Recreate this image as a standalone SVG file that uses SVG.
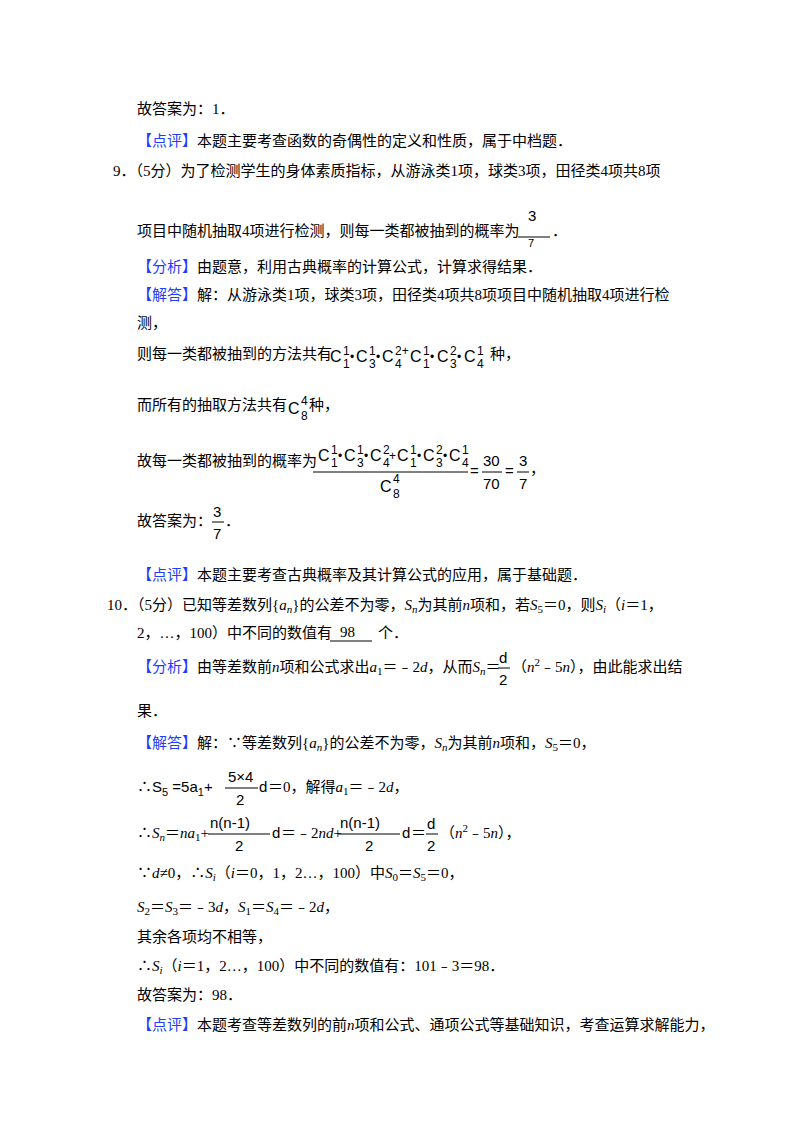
<svg xmlns="http://www.w3.org/2000/svg" width="800" height="1132" viewBox="0 0 800 1132">
<style>
text{font-family:"Liberation Serif","Noto Sans CJK SC",serif;font-size:15px;fill:#000}
.b{fill:#1f3dff}
.m{font-family:"Liberation Sans","Noto Sans CJK SC",sans-serif}
.c{font-family:"Liberation Sans",sans-serif;font-size:16px}
.s{font-size:11px}
.t{font-family:"Liberation Sans",sans-serif;font-size:12px}
.i{font-style:italic}
line{stroke:#000;stroke-width:1}
</style>
<rect width="800" height="1132" fill="#fff"/>
<text x="137" y="114">故答案为：1．</text>
<text x="137" y="146"><tspan class="b">【点评】</tspan>本题主要考查函数的奇偶性的定义和性质，属于中档题．</text>
<text x="113" y="176">9．（5分）为了检测学生的身体素质指标，从游泳类1项，球类3项，田径类4项共8项</text>
<text x="137" y="236">项目中随机抽取4项进行检测，则每一类都被抽到的概率为</text>
<line x1="518" y1="237" x2="550" y2="237"/>
<text x="528" y="221" class="m">3</text><text x="528" y="247" class="m s">7</text>
<text x="552" y="236">．</text>
<text x="137" y="272"><tspan class="b">【分析】</tspan>由题意，利用古典概率的计算公式，计算求得结果．</text>
<text x="137" y="300"><tspan class="b">【解答】</tspan>解：从游泳类1项，球类3项，田径类4项共8项项目中随机抽取4项进行检</text>
<text x="137" y="328">测，</text>
<text x="137" y="359">则每一类都被抽到的方法共有</text>
<g id="combo1" transform="translate(5,0)">
<text x="325" y="362" class="c">C</text><text x="338" y="355" class="t">1</text><text x="338" y="368" class="t">1</text><text x="345" y="361" class="t">•</text>
<text x="351" y="362" class="c">C</text><text x="364" y="355" class="t">1</text><text x="364" y="368" class="t">3</text><text x="371" y="361" class="t">•</text>
<text x="377" y="362" class="c">C</text><text x="390" y="355" class="t">2+</text><text x="390" y="368" class="t">4</text>
<text x="405" y="362" class="c">C</text><text x="418" y="355" class="t">1</text><text x="418" y="368" class="t">1</text><text x="425" y="361" class="t">•</text>
<text x="432" y="362" class="c">C</text><text x="445" y="355" class="t">2</text><text x="445" y="368" class="t">3</text><text x="452" y="361" class="t">•</text>
<text x="459" y="362" class="c">C</text><text x="472" y="355" class="t">1</text><text x="472" y="368" class="t">4</text>
</g>
<text x="490" y="359">种，</text>
<text x="137" y="410">而所有的抽取方法共有</text>
<text x="288" y="414" class="c">C</text><text x="301" y="405" class="t">4</text><text x="301" y="420" class="t">8</text>
<text x="309" y="410">种，</text>
<text x="137" y="466">故每一类都被抽到的概率为</text>
<g id="combo2" transform="translate(5,0)">
<text x="313" y="461" class="c">C</text><text x="326" y="454" class="t">1</text><text x="326" y="467" class="t">1</text><text x="333" y="460" class="t">•</text>
<text x="339" y="461" class="c">C</text><text x="352" y="454" class="t">1</text><text x="352" y="467" class="t">3</text><text x="359" y="460" class="t">•</text>
<text x="365" y="461" class="c">C</text><text x="378" y="454" class="t">2</text><text x="378" y="467" class="t">4</text><text x="384" y="460" class="t">+</text>
<text x="392" y="461" class="c">C</text><text x="405" y="454" class="t">1</text><text x="405" y="467" class="t">1</text><text x="412" y="460" class="t">•</text>
<text x="418" y="461" class="c">C</text><text x="431" y="454" class="t">2</text><text x="431" y="467" class="t">3</text><text x="438" y="460" class="t">•</text>
<text x="444" y="461" class="c">C</text><text x="457" y="454" class="t">1</text><text x="457" y="467" class="t">4</text>
</g>
<line x1="313" y1="472" x2="468" y2="472"/>
<text x="380" y="492" class="c">C</text><text x="393" y="483" class="t">4</text><text x="393" y="498" class="t">8</text>
<text x="470" y="476" class="m">=</text>
<line x1="482" y1="472" x2="502" y2="472"/><text x="483" y="466" class="m">30</text><text x="483" y="489" class="m">70</text>
<text x="505" y="476" class="m">=</text>
<line x1="517" y1="472" x2="529" y2="472"/><text x="519" y="466" class="m">3</text><text x="519" y="489" class="m">7</text>
<text x="530" y="474">，</text>
<text x="137" y="526">故答案为：</text>
<line x1="212" y1="522" x2="224" y2="522"/><text x="213" y="517" class="m">3</text><text x="213" y="539" class="m">7</text>
<text x="225" y="526">．</text>
<text x="137" y="580"><tspan class="b">【点评】</tspan>本题主要考查古典概率及其计算公式的应用，属于基础题．</text>
<text x="107" y="610">10．（5分）已知等差数列{<tspan class="i">a<tspan class="s" dy="3">n</tspan></tspan><tspan dy="-3">}的公差不为零，</tspan><tspan class="i">S<tspan class="s" dy="3">n</tspan></tspan><tspan dy="-3">为其前</tspan><tspan class="i">n</tspan>项和，若<tspan class="i">S</tspan><tspan class="s" dy="3">5</tspan><tspan dy="-3">＝0，则</tspan><tspan class="i">S<tspan class="s" dy="3">i</tspan></tspan><tspan dy="-3">（</tspan><tspan class="i">i</tspan>＝1，</text>
<text x="137" y="638">2，…，100）中不同的数值有</text>
<line x1="330" y1="641" x2="372" y2="641"/><text x="340" y="637">98</text>
<text x="378" y="638">个．</text>
<text x="137" y="672"><tspan class="b">【分析】</tspan>由等差数前<tspan class="i">n</tspan>项和公式求出<tspan class="i">a</tspan><tspan class="s" dy="3">1</tspan><tspan dy="-3">＝﹣2</tspan><tspan class="i">d</tspan>，从而<tspan class="i">S<tspan class="s" dy="3">n</tspan></tspan><tspan dy="-3">＝</tspan></text>
<line x1="498" y1="668" x2="510" y2="668"/><text x="499" y="663" class="m">d</text><text x="499" y="685" class="m">2</text>
<text x="512" y="672">（<tspan class="i">n</tspan><tspan class="s" dy="-6">2</tspan><tspan dy="6">﹣5</tspan><tspan class="i">n</tspan>），由此能求出结</text>
<text x="137" y="716">果．</text>
<text x="137" y="748"><tspan class="b">【解答】</tspan>解：∵等差数列{<tspan class="i">a<tspan class="s" dy="3">n</tspan></tspan><tspan dy="-3">}的公差不为零，</tspan><tspan class="i">S<tspan class="s" dy="3">n</tspan></tspan><tspan dy="-3">为其前</tspan><tspan class="i">n</tspan>项和，<tspan class="i">S</tspan><tspan class="s" dy="3">5</tspan><tspan dy="-3">＝0，</tspan></text>
<text x="137" y="792" class="m">∴S<tspan class="s" dy="4">5</tspan><tspan dy="-4"> =5a</tspan><tspan class="s" dy="4">1</tspan><tspan dy="-4">+</tspan></text>
<line x1="225" y1="788" x2="258" y2="788"/><text x="228" y="782" class="m">5×4</text><text x="236" y="805" class="m">2</text>
<text x="259" y="792" class="m">d</text>
<text x="268" y="792">＝0，解得<tspan class="i">a</tspan><tspan class="s" dy="3">1</tspan><tspan dy="-3">＝﹣2</tspan><tspan class="i">d</tspan>，</text>
<text x="137" y="838">∴<tspan class="i">S<tspan class="s" dy="3">n</tspan></tspan><tspan dy="-3">＝</tspan><tspan class="i">na</tspan><tspan class="s" dy="3">1</tspan><tspan dy="-3">+</tspan></text>
<line x1="208" y1="834" x2="270" y2="834"/><text x="210" y="828" class="m">n(n-1)</text><text x="235" y="851" class="m">2</text>
<text x="272" y="838" class="m">d</text>
<text x="281" y="838">＝﹣2<tspan class="i">nd</tspan>+</text>
<line x1="338" y1="834" x2="400" y2="834"/><text x="340" y="828" class="m">n(n-1)</text><text x="365" y="851" class="m">2</text>
<text x="402" y="838" class="m">d</text>
<text x="411" y="838">＝</text>
<line x1="426" y1="834" x2="438" y2="834"/><text x="427" y="829" class="m">d</text><text x="427" y="851" class="m">2</text>
<text x="440" y="838">（<tspan class="i">n</tspan><tspan class="s" dy="-6">2</tspan><tspan dy="6">﹣5</tspan><tspan class="i">n</tspan>），</text>
<text x="137" y="878">∵<tspan class="i">d</tspan>≠0，∴<tspan class="i">S<tspan class="s" dy="3">i</tspan></tspan><tspan dy="-3">（</tspan><tspan class="i">i</tspan>＝0，1，2…，100）中<tspan class="i">S</tspan><tspan class="s" dy="3">0</tspan><tspan dy="-3">＝</tspan><tspan class="i">S</tspan><tspan class="s" dy="3">5</tspan><tspan dy="-3">＝0，</tspan></text>
<text x="137" y="912"><tspan class="i">S</tspan><tspan class="s" dy="3">2</tspan><tspan dy="-3">＝</tspan><tspan class="i">S</tspan><tspan class="s" dy="3">3</tspan><tspan dy="-3">＝﹣3</tspan><tspan class="i">d</tspan>，<tspan class="i">S</tspan><tspan class="s" dy="3">1</tspan><tspan dy="-3">＝</tspan><tspan class="i">S</tspan><tspan class="s" dy="3">4</tspan><tspan dy="-3">＝﹣2</tspan><tspan class="i">d</tspan>，</text>
<text x="137" y="942">其余各项均不相等，</text>
<text x="137" y="971">∴<tspan class="i">S<tspan class="s" dy="3">i</tspan></tspan><tspan dy="-3">（</tspan><tspan class="i">i</tspan>＝1，2…，100）中不同的数值有：101﹣3＝98．</text>
<text x="137" y="1000">故答案为：98．</text>
<text x="137" y="1030"><tspan class="b">【点评】</tspan>本题考查等差数列的前<tspan class="i">n</tspan>项和公式、通项公式等基础知识，考查运算求解能力，</text>
</svg>
